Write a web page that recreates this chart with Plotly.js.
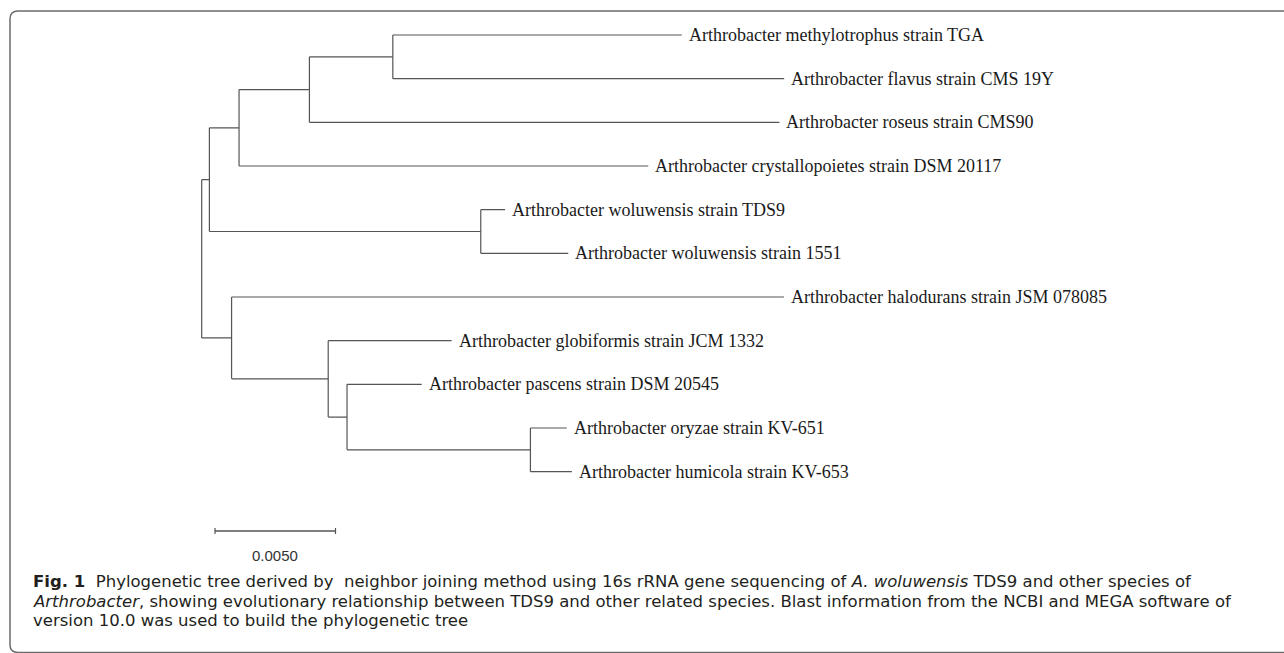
<!DOCTYPE html>
<html>
<head>
<meta charset="utf-8">
<script src="https://cdn.plot.ly/plotly-3.0.1.min.js"></script>
<style>
  html, body { margin: 0; padding: 0; background: #ffffff; }
  #chart { width: 1284px; height: 653px; }
</style>
</head>
<body>
<div id="chart"></div>
<script>
// ---------------- DATA ----------------
const leafNames = [
  'Arthrobacter methylotrophus strain TGA',
  'Arthrobacter flavus strain CMS 19Y',
  'Arthrobacter roseus strain CMS90',
  'Arthrobacter crystallopoietes strain DSM 20117',
  'Arthrobacter woluwensis strain TDS9',
  'Arthrobacter woluwensis strain 1551',
  'Arthrobacter halodurans strain JSM 078085',
  'Arthrobacter globiformis strain JCM 1332',
  'Arthrobacter pascens strain DSM 20545',
  'Arthrobacter oryzae strain KV-651',
  'Arthrobacter humicola strain KV-653'
];
const leafParents = ['E', 'E', 'D', 'C', 'W', 'W', 'A', 'G', 'P', 'O', 'O'];
const leafBranchLengths = [0.01199, 0.01624, 0.01950, 0.01698, 0.00101, 0.00363, 0.02292, 0.00512, 0.00310, 0.00151, 0.00172];

const nodeIds     = ['R', 'B', 'C', 'D', 'E', 'W', 'A', 'G', 'P', 'O'];
const nodeParents = [null, 'R', 'B', 'C', 'D', 'B', 'R', 'A', 'G', 'P'];
const nodeBranchLengths = [0, 0.00032, 0.00123, 0.00292, 0.00346, 0.01126, 0.00124, 0.00401, 0.00078, 0.00761];

const scaleBarLength = 0.005;
const scaleBarLabel = '0.0050';

const captionLines = [
  '<b>Fig. 1</b>&nbsp; Phylogenetic tree derived by&nbsp; neighbor joining method using 16s rRNA gene sequencing of <i>A. woluwensis</i> TDS9 and other species of',
  '<i>Arthrobacter</i>, showing evolutionary relationship between TDS9 and other related species. Blast information from the NCBI and MEGA software of',
  'version 10.0 was used to build the phylogenetic tree'
];

// ---------------- TREE LAYOUT ----------------
const nodeX = {}, nodeY = {};
function getX(id) {
  if (id in nodeX) return nodeX[id];
  const i = nodeIds.indexOf(id);
  const p = nodeParents[i];
  nodeX[id] = p === null ? 0 : getX(p) + nodeBranchLengths[i];
  return nodeX[id];
}
function childYs(id) {
  const ys = [];
  leafParents.forEach((p, i) => { if (p === id) ys.push(i); });
  nodeIds.forEach((n, i) => { if (nodeParents[i] === id) ys.push(getY(n)); });
  return ys;
}
function getY(id) {
  if (id in nodeY) return nodeY[id];
  const ys = childYs(id);
  nodeY[id] = (Math.min(...ys) + Math.max(...ys)) / 2;
  return nodeY[id];
}
nodeIds.forEach(id => { getX(id); getY(id); });

const bx = [], by = [];
nodeIds.forEach(id => {
  const ys = childYs(id);
  bx.push(nodeX[id], nodeX[id], null);
  by.push(Math.min(...ys), Math.max(...ys), null);
});
nodeIds.forEach((id, i) => {
  const p = nodeParents[i];
  if (p === null) return;
  bx.push(nodeX[p], nodeX[id], null);
  by.push(nodeY[id], nodeY[id], null);
});
const tipX = [];
leafNames.forEach((name, i) => {
  const px = nodeX[leafParents[i]];
  const tx = px + leafBranchLengths[i];
  tipX.push(tx);
  bx.push(px, tx, null);
  by.push(i, i, null);
});

const traces = [{
  type: 'scatter', mode: 'lines', x: bx, y: by,
  line: { color: '#555555', width: 1.2 },
  hoverinfo: 'skip', showlegend: false
}];

// ---------------- LAYOUT ----------------
const W = 1284, H = 653;
const px = v => v / W;
const py = v => 1 - v / H;

const annotations = leafNames.map((name, i) => ({
  x: tipX[i], y: i, xref: 'x', yref: 'y',
  text: name, showarrow: false, xanchor: 'left', yanchor: 'middle',
  xshift: 5,
  font: { family: 'Liberation Serif, Times New Roman, serif', size: 18, color: '#1a1a1a' }
}));

const sbX0 = 0.000552;
annotations.push({
  x: sbX0 + scaleBarLength / 2, y: py(555), xref: 'x', yref: 'paper',
  text: scaleBarLabel, showarrow: false, xanchor: 'center', yanchor: 'middle',
  font: { family: 'Liberation Sans, Arial, sans-serif', size: 15, color: '#333333' }
});

const captionY = [581, 601, 620.3];
captionLines.forEach((t, i) => {
  annotations.push({
    x: px(33), y: py(captionY[i]), xref: 'paper', yref: 'paper',
    text: t, showarrow: false, xanchor: 'left', yanchor: 'middle', align: 'left',
    borderpad: 0, borderwidth: 0,
    font: { family: 'DejaVu Sans, sans-serif', size: 16.5, color: '#231f20' }
  });
});

const borderPath = 'M ' + px(1300) + ',' + py(11) +
  ' L ' + px(18) + ',' + py(11) +
  ' Q ' + px(10) + ',' + py(11) + ' ' + px(10) + ',' + py(19) +
  ' L ' + px(10) + ',' + py(644.5) +
  ' Q ' + px(10) + ',' + py(652.5) + ' ' + px(18) + ',' + py(652.5) +
  ' L ' + px(1300) + ',' + py(652.5);

const sbY = py(531);
const capH = 3 / H;
const shapes = [
  { type: 'path', xref: 'paper', yref: 'paper', path: borderPath,
    line: { color: '#6b6b6b', width: 1.5 } },
  { type: 'line', xref: 'x', yref: 'paper', x0: sbX0, x1: sbX0 + scaleBarLength, y0: sbY, y1: sbY,
    line: { color: '#555555', width: 1.5 } },
  { type: 'line', xref: 'x', yref: 'paper', x0: sbX0, x1: sbX0, y0: sbY - capH, y1: sbY + capH,
    line: { color: '#555555', width: 1.2 } },
  { type: 'line', xref: 'x', yref: 'paper', x0: sbX0 + scaleBarLength, x1: sbX0 + scaleBarLength, y0: sbY - capH, y1: sbY + capH,
    line: { color: '#555555', width: 1.2 } }
];

const layout = {
  width: W, height: H,
  margin: { l: 0, r: 0, t: 0, b: 0, pad: 0 },
  paper_bgcolor: '#ffffff', plot_bgcolor: '#ffffff',
  showlegend: false,
  xaxis: { range: [-0.008369, 0.044909], domain: [0, 1], visible: false, fixedrange: true },
  yaxis: { range: [10.5, -0.5], domain: [0.24426, 0.97983], visible: false, fixedrange: true },
  shapes: shapes,
  annotations: annotations
};

Plotly.newPlot('chart', traces, layout, { displayModeBar: false, staticPlot: true });
</script>
</body>
</html>
